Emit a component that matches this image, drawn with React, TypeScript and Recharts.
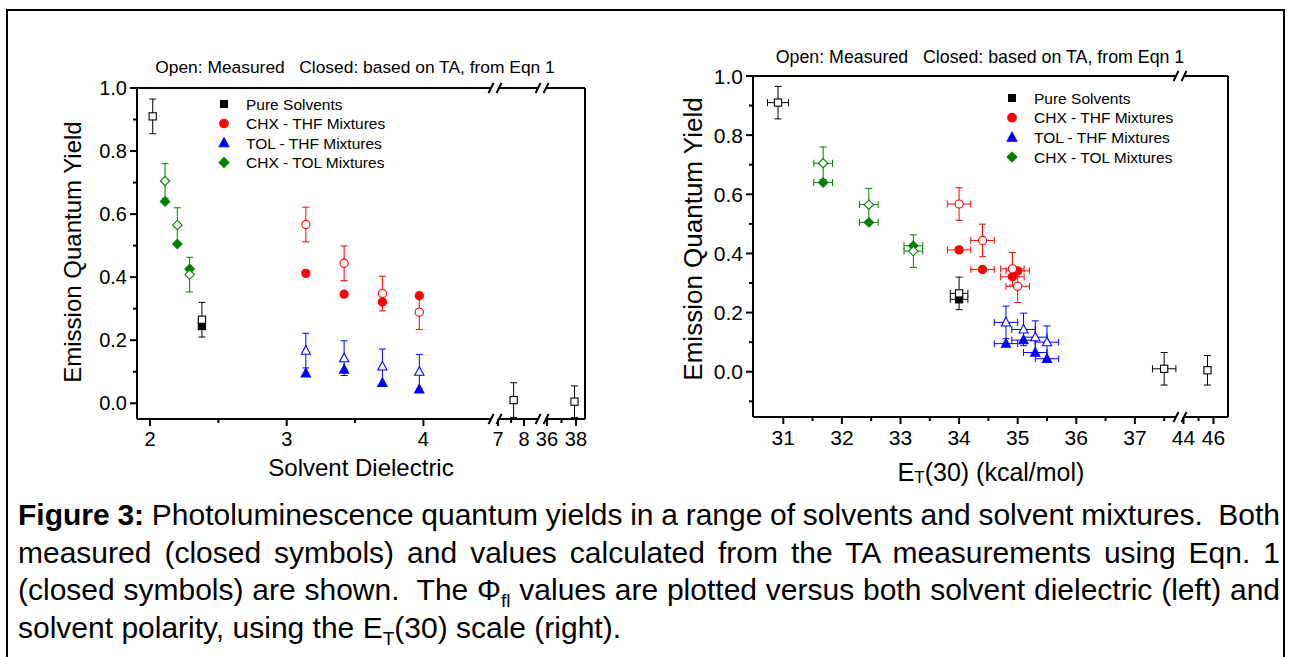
import React from 'react';
import { ScatterChart, Scatter, XAxis, YAxis, ErrorBar, ReferenceLine, ReferenceDot, Legend } from 'recharts';

const FONT = 'Arial, "Liberation Sans", Helvetica, sans-serif';

// ---------------- data ----------------
// emission quantum yields (shared by both panels)
const qyPureOpen = [0.91, 0.265, 0.01, 0.005];
const qyPureClosed = [0.245];
const qyChxThfOpen = [0.567, 0.444, 0.348, 0.289];
const qyChxThfClosed = [0.412, 0.346, 0.321, 0.341];
const qyTolThfOpen = [0.167, 0.143, 0.117, 0.1];
const qyTolThfClosed = [0.095, 0.107, 0.065, 0.044];
const qyChxTolOpen = [0.705, 0.565, 0.408];
const qyChxTolClosed = [0.64, 0.505, 0.426];
const qyErrPure = [0.055, 0.055, 0.055, 0.05];
const qyErrMix4 = [0.055, 0.055, 0.055, 0.055];
const qyErrMix3 = [0.055, 0.055, 0.055];

// left panel: solvent dielectric
const dielPure = [2.02, 2.38, 7.6, 37.9];
const dielPureClosed = [2.38];
const dielChxThf = [3.14, 3.42, 3.7, 3.97];
const dielTolThf = [3.14, 3.42, 3.7, 3.97];
const dielChxTol = [2.11, 2.2, 2.29];

// right panel: ET(30)
const etPure = [30.91, 34.0, 37.5, 45.6];
const etPureClosed = [34.0];
const etChxThf = [34.0, 34.4, 34.91, 35.0];
const etTolThf = [34.8, 35.1, 35.3, 35.5];
const etChxTol = [31.68, 32.46, 33.22];
const etErrPure = [0.18, 0.15, 0.2, 0];
const etErrPureClosed = [0.15];
const etErrChxThf = [0.2, 0.2, 0.2, 0.2];
const etErrTolThf = [0.2, 0.2, 0.2, 0.2];
const etErrChxTol = [0.16, 0.16, 0.16];

// ticks
const leftXMajor = [2, 3, 4, 7, 8, 36, 38];
const leftXMinor = [2.5, 3.5, 7.5, 37];
const rightXMajor = [31, 32, 33, 34, 35, 36, 37, 44, 46];
const rightXMinor = [31.5, 32.5, 33.5, 34.5, 35.5, 36.5, 37.5, 45];
const leftYTicks = [0, 0.2, 0.4, 0.6, 0.8, 1.0, 0.1, 0.3, 0.5, 0.7, 0.9];
const rightYTicks = [0, 0.2, 0.4, 0.6, 0.8, 1.0, -0.1, 0.1, 0.3, 0.5, 0.7, 0.9];

const legendLabels = ['Pure Solvents', 'CHX - THF Mixtures', 'TOL - THF Mixtures', 'CHX - TOL Mixtures'];
const legendShapes = ['square', 'circle', 'triangle', 'diamond'];
const COLORS = ['#000000', '#ff0000', '#0000ff', '#008000'];

// ---------------- broken-axis transforms ----------------
const leftX = (v: number) => (v < 5 ? v : v < 20 ? 4.546 + (v - 7) * 0.19 : 4.904 + (v - 36) * 0.106);
const rightX = (v: number) => (v < 40 ? v : 37.83 + (v - 44) * 0.2555);
const LEFT_DOM: [number, number] = [1.905, 5.182];
const RIGHT_DOM: [number, number] = [30.483, 38.589];
const LEFT_BREAKS = [4.524, 4.868];
const RIGHT_BREAKS = [37.77];

type Pt = { x: number; y: number; ey: number; ex: [number, number] };
function mk(xs: number[], ys: number[], tx: (v: number) => number, ey?: number[], ex?: number[]): Pt[] {
  return xs.map((x, i) => ({
    x: tx(x),
    y: ys[i],
    ey: ey ? ey[i] : 0,
    ex: ex ? [tx(x) - tx(x - ex[i]), tx(x + ex[i]) - tx(x)] : [0, 0],
  }));
}

function tickInfo(major: number[], minor: number[], tx: (v: number) => number) {
  const m = new Map<string, { label: string; major: boolean }>();
  major.forEach((v) => m.set(tx(v).toFixed(4), { label: String(v), major: true }));
  minor.forEach((v) => m.set(tx(v).toFixed(4), { label: '', major: false }));
  return { ticks: [...major, ...minor].map(tx), info: m };
}

// ---------------- drawing helpers ----------------
function Marker({ kind, cx, cy, color, filled, s = 1 }: any) {
  const fill = filled ? color : '#ffffff';
  const sw = 1.1;
  if (kind === 'square') {
    const h = 3.6 * s;
    return <rect x={cx - h} y={cy - h} width={2 * h} height={2 * h} fill={fill} stroke={color} strokeWidth={sw} />;
  }
  if (kind === 'circle') return <circle cx={cx} cy={cy} r={4.1 * s} fill={fill} stroke={color} strokeWidth={sw} />;
  if (kind === 'triangle') {
    const w = 4.6 * s;
    return (
      <polygon
        points={`${cx},${cy - 5 * s} ${cx - w},${cy + 3.6 * s} ${cx + w},${cy + 3.6 * s}`}
        fill={fill}
        stroke={color}
        strokeWidth={sw}
      />
    );
  }
  const d = 4.7 * s;
  return (
    <polygon
      points={`${cx},${cy - d} ${cx + d},${cy} ${cx},${cy + d} ${cx - d},${cy}`}
      fill={fill}
      stroke={color}
      strokeWidth={sw}
    />
  );
}

const shapeFn = (kind: string, color: string, filled: boolean) => (p: any) =>
  <Marker kind={kind} cx={p.cx} cy={p.cy} color={color} filled={filled} />;

const makeXTick = (info: Map<string, { label: string; major: boolean }>, fs: number) => (props: any) => {
  const { x, y, payload } = props;
  const it = info.get(Number(payload.value).toFixed(4));
  if (!it) return <g />;
  return (
    <g>
      <line x1={x} y1={y} x2={x} y2={y + (it.major ? 7 : 4)} stroke="#000" strokeWidth={2} />
      {it.major && (
        <text x={x} y={y + 20} textAnchor="middle" dominantBaseline="central" fontSize={fs} fontFamily={FONT} fill="#000">
          {it.label}
        </text>
      )}
    </g>
  );
};

const makeYTick = (fs: number) => (props: any) => {
  const { x, y, payload } = props;
  const v = Number(payload.value);
  const major = Math.abs(v * 5 - Math.round(v * 5)) < 1e-6;
  return (
    <g>
      <line x1={x} y1={y} x2={x - (major ? 7 : 4)} y2={y} stroke="#000" strokeWidth={2} />
      {major && (
        <text x={x - 10} y={y} textAnchor="end" dominantBaseline="central" fontSize={fs} fontFamily={FONT} fill="#000">
          {v.toFixed(1)}
        </text>
      )}
    </g>
  );
};

const YTitle = (p: any) => (
  <text
    x={p.px}
    y={p.py}
    transform={`rotate(-90 ${p.px} ${p.py})`}
    textAnchor="middle"
    dominantBaseline="central"
    fontSize={p.fs}
    fontFamily={FONT}
    fill="#000"
  >
    {p.text}
  </text>
);

const XTitle = (p: any) => (
  <text x={p.px} y={p.py} textAnchor="middle" dominantBaseline="central" fontSize={p.fs} fontFamily={FONT} fill="#000">
    {p.sub ? (
      <>
        <tspan>{p.pre}</tspan>
        <tspan dy={5} fontSize={p.fs * 0.68}>
          {p.sub}
        </tspan>
        <tspan dy={-5}>{p.text}</tspan>
      </>
    ) : (
      p.text
    )}
  </text>
);

const BreakMark = (p: any) => {
  const { cx, cy } = p;
  return (
    <g>
      <line x1={cx - 6.5} y1={cy + 5} x2={cx - 1.5} y2={cy - 5} stroke="#000" strokeWidth={2} />
      <line x1={cx + 1.5} y1={cy + 5} x2={cx + 6.5} y2={cy - 5} stroke="#000" strokeWidth={2} />
    </g>
  );
};

function boxSegments(dom: [number, number], breaks: number[], gap: number, yMin: number, yMax: number) {
  const edges = [dom[0], ...breaks.flatMap((b) => [b - gap, b + gap]), dom[1]];
  const out: React.ReactNode[] = [];
  for (let i = 0; i < edges.length; i += 2) {
    [yMin, yMax].forEach((yy, j) =>
      out.push(
        <ReferenceLine
          key={`seg-${i}-${j}`}
          segment={[
            { x: edges[i], y: yy },
            { x: edges[i + 1], y: yy },
          ]}
          stroke="#000"
          strokeWidth={2}
          ifOverflow="visible"
        />
      )
    );
  }
  out.push(
    <ReferenceLine
      key="right-edge"
      segment={[
        { x: dom[1], y: yMin },
        { x: dom[1], y: yMax },
      ]}
      stroke="#000"
      strokeWidth={2}
      ifOverflow="visible"
    />
  );
  breaks.forEach((b, i) => {
    [yMin, yMax].forEach((yy, j) =>
      out.push(<ReferenceDot key={`br-${i}-${j}`} x={b} y={yy} r={1} ifOverflow="visible" shape={BreakMark} />)
    );
  });
  return out;
}

const legendContent = (fs: number, gap: number) => () => (
  <svg width={230} height={90} style={{ overflow: 'visible' }}>
    {legendLabels.map((lab, i) => (
      <g key={lab}>
        <Marker kind={legendShapes[i]} cx={9} cy={10 + i * gap} color={COLORS[i]} filled s={legendShapes[i] === 'square' ? 0.95 : 1.05} />
        <text x={31} y={10 + i * gap} dominantBaseline="central" fontSize={fs} fontFamily={FONT} fill="#000">
          {lab}
        </text>
      </g>
    ))}
  </svg>
);

// ---------------- panels ----------------
function LeftChart() {
  const xt = tickInfo(leftXMajor, leftXMinor, leftX);
  const yMin = -0.05;
  const yMax = 1.0;
  return (
    <ScatterChart width={640} height={500} margin={{ top: 88, left: 77, right: 55, bottom: 51 }}>
      <XAxis
        type="number"
        dataKey="x"
        domain={LEFT_DOM}
        allowDataOverflow
        ticks={xt.ticks}
        interval={0}
        tickSize={0}
        tickMargin={0}
        tickLine={false}
        axisLine={false}
        height={30}
        tick={makeXTick(xt.info, 20)}
        label={<XTitle px={361} py={467} fs={24} text="Solvent Dielectric" />}
      />
      <YAxis
        type="number"
        dataKey="y"
        domain={[yMin, yMax]}
        allowDataOverflow
        ticks={leftYTicks}
        interval={0}
        tickSize={0}
        tickMargin={0}
        tickLine={false}
        axisLine={{ stroke: '#000', strokeWidth: 2 }}
        width={60}
        tick={makeYTick(20)}
        label={<YTitle px={72} py={252} fs={24} text="Emission Quantum Yield" />}
      />
      {boxSegments(LEFT_DOM, LEFT_BREAKS, 0.029, yMin, yMax)}
      <Scatter data={mk(dielPureClosed, qyPureClosed, leftX)} shape={shapeFn('square', COLORS[0], true)} isAnimationActive={false} />
      <Scatter data={mk(dielChxThf, qyChxThfClosed, leftX)} shape={shapeFn('circle', COLORS[1], true)} isAnimationActive={false} />
      <Scatter data={mk(dielTolThf, qyTolThfClosed, leftX)} shape={shapeFn('triangle', COLORS[2], true)} isAnimationActive={false} />
      <Scatter data={mk(dielChxTol, qyChxTolClosed, leftX)} shape={shapeFn('diamond', COLORS[3], true)} isAnimationActive={false} />
      <Scatter data={mk(dielPure, qyPureOpen, leftX, qyErrPure)} shape={shapeFn('square', COLORS[0], false)} isAnimationActive={false}>
        <ErrorBar dataKey="ey" direction="y" width={3.5} strokeWidth={1} stroke={COLORS[0]} isAnimationActive={false} />
      </Scatter>
      <Scatter data={mk(dielChxThf, qyChxThfOpen, leftX, qyErrMix4)} shape={shapeFn('circle', COLORS[1], false)} isAnimationActive={false}>
        <ErrorBar dataKey="ey" direction="y" width={3.5} strokeWidth={1} stroke={COLORS[1]} isAnimationActive={false} />
      </Scatter>
      <Scatter data={mk(dielTolThf, qyTolThfOpen, leftX, qyErrMix4)} shape={shapeFn('triangle', COLORS[2], false)} isAnimationActive={false}>
        <ErrorBar dataKey="ey" direction="y" width={3.5} strokeWidth={1} stroke={COLORS[2]} isAnimationActive={false} />
      </Scatter>
      <Scatter data={mk(dielChxTol, qyChxTolOpen, leftX, qyErrMix3)} shape={shapeFn('diamond', COLORS[3], false)} isAnimationActive={false}>
        <ErrorBar dataKey="ey" direction="y" width={3.5} strokeWidth={1} stroke={COLORS[3]} isAnimationActive={false} />
      </Scatter>
      <Legend
        layout="vertical"
        align="center"
        verticalAlign="middle"
        content={legendContent(15.5, 19.5)}
        wrapperStyle={{ left: 215, top: 94, width: 230, height: 90 }}
      />
    </ScatterChart>
  );
}

function RightChart() {
  const xt = tickInfo(rightXMajor, rightXMinor, rightX);
  const yMin = -0.153;
  const yMax = 1.0;
  return (
    <ScatterChart width={651} height={500} margin={{ top: 76, left: 53, right: 63, bottom: 53 }}>
      <XAxis
        type="number"
        dataKey="x"
        domain={RIGHT_DOM}
        allowDataOverflow
        ticks={xt.ticks}
        interval={0}
        tickSize={0}
        tickMargin={0}
        tickLine={false}
        axisLine={false}
        height={30}
        tick={makeXTick(xt.info, 21)}
        label={<XTitle px={351} py={472} fs={25} pre="E" sub="T" text="(30) (kcal/mol)" />}
      />
      <YAxis
        type="number"
        dataKey="y"
        domain={[yMin, yMax]}
        allowDataOverflow
        ticks={rightYTicks}
        interval={0}
        tickSize={0}
        tickMargin={0}
        tickLine={false}
        axisLine={{ stroke: '#000', strokeWidth: 2 }}
        width={60}
        tick={makeYTick(21)}
        label={<YTitle px={53} py={239} fs={26} text="Emission Quantum Yield" />}
      />
      {boxSegments(RIGHT_DOM, RIGHT_BREAKS, 0.068, yMin, yMax)}
      <Scatter data={mk(etPureClosed, qyPureClosed, rightX, undefined, etErrPureClosed)} shape={shapeFn('square', COLORS[0], true)} isAnimationActive={false}>
        <ErrorBar dataKey="ex" direction="x" width={3.5} strokeWidth={1} stroke={COLORS[0]} isAnimationActive={false} />
      </Scatter>
      <Scatter data={mk(etChxThf, qyChxThfClosed, rightX, undefined, etErrChxThf)} shape={shapeFn('circle', COLORS[1], true)} isAnimationActive={false}>
        <ErrorBar dataKey="ex" direction="x" width={3.5} strokeWidth={1} stroke={COLORS[1]} isAnimationActive={false} />
      </Scatter>
      <Scatter data={mk(etTolThf, qyTolThfClosed, rightX, undefined, etErrTolThf)} shape={shapeFn('triangle', COLORS[2], true)} isAnimationActive={false}>
        <ErrorBar dataKey="ex" direction="x" width={3.5} strokeWidth={1} stroke={COLORS[2]} isAnimationActive={false} />
      </Scatter>
      <Scatter data={mk(etChxTol, qyChxTolClosed, rightX, undefined, etErrChxTol)} shape={shapeFn('diamond', COLORS[3], true)} isAnimationActive={false}>
        <ErrorBar dataKey="ex" direction="x" width={3.5} strokeWidth={1} stroke={COLORS[3]} isAnimationActive={false} />
      </Scatter>
      <Scatter data={mk(etPure, qyPureOpen, rightX, qyErrPure, etErrPure)} shape={shapeFn('square', COLORS[0], false)} isAnimationActive={false}>
        <ErrorBar dataKey="ey" direction="y" width={3.5} strokeWidth={1} stroke={COLORS[0]} isAnimationActive={false} />
        <ErrorBar dataKey="ex" direction="x" width={3.5} strokeWidth={1} stroke={COLORS[0]} isAnimationActive={false} />
      </Scatter>
      <Scatter data={mk(etChxThf, qyChxThfOpen, rightX, qyErrMix4, etErrChxThf)} shape={shapeFn('circle', COLORS[1], false)} isAnimationActive={false}>
        <ErrorBar dataKey="ey" direction="y" width={3.5} strokeWidth={1} stroke={COLORS[1]} isAnimationActive={false} />
        <ErrorBar dataKey="ex" direction="x" width={3.5} strokeWidth={1} stroke={COLORS[1]} isAnimationActive={false} />
      </Scatter>
      <Scatter data={mk(etTolThf, qyTolThfOpen, rightX, qyErrMix4, etErrTolThf)} shape={shapeFn('triangle', COLORS[2], false)} isAnimationActive={false}>
        <ErrorBar dataKey="ey" direction="y" width={3.5} strokeWidth={1} stroke={COLORS[2]} isAnimationActive={false} />
        <ErrorBar dataKey="ex" direction="x" width={3.5} strokeWidth={1} stroke={COLORS[2]} isAnimationActive={false} />
      </Scatter>
      <Scatter data={mk(etChxTol, qyChxTolOpen, rightX, qyErrMix3, etErrChxTol)} shape={shapeFn('diamond', COLORS[3], false)} isAnimationActive={false}>
        <ErrorBar dataKey="ey" direction="y" width={3.5} strokeWidth={1} stroke={COLORS[3]} isAnimationActive={false} />
        <ErrorBar dataKey="ex" direction="x" width={3.5} strokeWidth={1} stroke={COLORS[3]} isAnimationActive={false} />
      </Scatter>
      <Legend
        layout="vertical"
        align="center"
        verticalAlign="middle"
        content={legendContent(15.5, 19.7)}
        wrapperStyle={{ left: 363, top: 88, width: 230, height: 90 }}
      />
    </ScatterChart>
  );
}

const captionLine: React.CSSProperties = {
  textAlign: 'justify',
  textAlignLast: 'justify',
  whiteSpace: 'nowrap',
  height: 37.6,
  lineHeight: '37.6px',
};

const subStyle: React.CSSProperties = { fontSize: 19, lineHeight: 0 };

export default function App() {
  return (
    <div
      style={{
        position: 'absolute',
        left: 0,
        top: 0,
        width: 1291,
        height: 657,
        overflow: 'hidden',
        background: '#fff',
        fontFamily: FONT,
        color: '#000',
      }}
    >
      <div
        style={{
          position: 'absolute',
          left: 6,
          top: 9,
          width: 1279,
          height: 720,
          border: '2px solid #000',
          boxSizing: 'border-box',
        }}
      />
      <div style={{ position: 'absolute', left: 0, top: 0 }}>
        <LeftChart />
      </div>
      <div style={{ position: 'absolute', left: 640, top: 0 }}>
        <RightChart />
      </div>
      <div
        style={{
          position: 'absolute',
          left: 105,
          top: 57,
          width: 500,
          textAlign: 'center',
          fontSize: 17.4,
          lineHeight: '20px',
          whiteSpace: 'pre',
        }}
      >
        {'Open: Measured   Closed: based on TA, from Eqn 1'}
      </div>
      <div
        style={{
          position: 'absolute',
          left: 730,
          top: 47,
          width: 500,
          textAlign: 'center',
          fontSize: 17.8,
          lineHeight: '20px',
          whiteSpace: 'pre',
        }}
      >
        {'Open: Measured   Closed: based on TA, from Eqn 1'}
      </div>
      <div style={{ position: 'absolute', left: 18, top: 496, width: 1262, fontSize: 30 }}>
        <div style={{ ...captionLine, wordSpacing: -1.4 }}>
          <b>Figure 3:</b> Photoluminescence quantum yields in a range of solvents and solvent mixtures.&nbsp; Both
        </div>
        <div style={captionLine}>
          measured (closed symbols) and values calculated from the TA measurements using Eqn. 1
        </div>
        <div style={captionLine}>
          (closed symbols) are shown.&nbsp; The Φ<sub style={subStyle}>fl</sub> values are plotted versus both solvent dielectric (left) and
        </div>
        <div style={{ ...captionLine, textAlignLast: 'left' }}>
          solvent polarity, using the E<sub style={subStyle}>T</sub>(30) scale (right).
        </div>
      </div>
    </div>
  );
}
